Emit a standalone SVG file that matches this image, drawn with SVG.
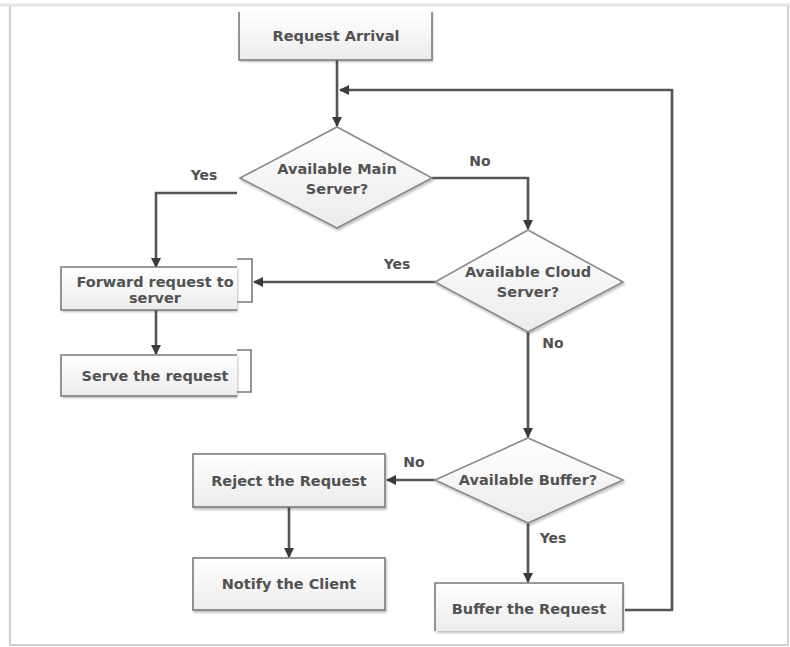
<svg xmlns="http://www.w3.org/2000/svg" width="790" height="647" viewBox="0 0 790 647">
<defs>
<linearGradient id="boxfill" x1="0" y1="0" x2="0" y2="1">
<stop offset="0" stop-color="#ffffff"/>
<stop offset="1" stop-color="#ececec"/>
</linearGradient>
<marker id="arr" markerWidth="10" markerHeight="10" refX="9" refY="5" orient="auto" markerUnits="userSpaceOnUse" viewBox="0 0 10 10">
<path d="M0,0 L10,5 L0,10 z" fill="#3a3a3a"/>
</marker>
<filter id="sh" x="-10%" y="-10%" width="130%" height="140%">
<feDropShadow dx="1" dy="2" stdDeviation="1.2" flood-color="#000" flood-opacity="0.25"/>
</filter>
</defs>
<style>
.box{fill:url(#boxfill);stroke:#7a7a7a;stroke-width:1.6}
.edge{fill:none;stroke:#7a7a7a;stroke-width:1.6}
.dia{fill:url(#boxfill);stroke:#8a8a8a;stroke-width:1.6}
.conn{fill:none;stroke:#555;stroke-width:2.6}
.t{font-family:"DejaVu Sans","Open Sans",sans-serif;font-size:14.5px;font-weight:bold;fill:#525252;text-anchor:middle}
.lbl{font-family:"DejaVu Sans","Open Sans",sans-serif;font-size:14px;font-weight:bold;fill:#525252;text-anchor:middle}
</style>
<rect x="0" y="0" width="790" height="647" fill="#ffffff"/>
<rect x="10" y="5" width="778" height="640" fill="#ffffff" stroke="#d0d0d0" stroke-width="2"/>
<line x1="0" y1="5" x2="790" y2="5" stroke="#e6e6e6" stroke-width="3"/>

<g id="connectors">
<line class="conn" x1="337" y1="60" x2="337" y2="126" marker-end="url(#arr)"/>
<polyline class="conn" points="625,610 672,610 672,90 340,90" marker-end="url(#arr)"/>
<polyline class="conn" points="237,193 156,193 156,267" marker-end="url(#arr)"/>
<polyline class="conn" points="432,178 528,178 528,229" marker-end="url(#arr)"/>
<line class="conn" x1="435" y1="282" x2="254" y2="282" marker-end="url(#arr)"/>
<line class="conn" x1="156" y1="310" x2="156" y2="354" marker-end="url(#arr)"/>
<line class="conn" x1="528" y1="332" x2="528" y2="437" marker-end="url(#arr)"/>
<line class="conn" x1="435" y1="480" x2="387" y2="480" marker-end="url(#arr)"/>
<line class="conn" x1="289" y1="507" x2="289" y2="557" marker-end="url(#arr)"/>
<line class="conn" x1="528" y1="523" x2="528" y2="582" marker-end="url(#arr)"/>
<text class="lbl" x="204" y="180">Yes</text>
<text class="lbl" x="480" y="166">No</text>
<text class="lbl" x="397" y="269">Yes</text>
<text class="lbl" x="553" y="348">No</text>
<text class="lbl" x="414" y="467">No</text>
<text class="lbl" x="553" y="543">Yes</text>
</g>

<g id="request-arrival">
<rect x="239" y="10" width="193" height="50" fill="url(#boxfill)" filter="url(#sh)"/>
<polyline class="edge" points="239,12 239,60 432,60 432,12"/>
<text class="t" x="336" y="41">Request Arrival</text>
</g>

<g id="main-server">
<polygon class="dia" points="337,127 432,178 337,228 240,178" filter="url(#sh)"/>
<text class="t" x="337" y="174">Available Main</text>
<text class="t" x="337" y="194">Server?</text>
</g>

<g id="forward-request">
<rect x="61" y="267" width="176" height="43" fill="url(#boxfill)" filter="url(#sh)"/>
<polyline class="edge" points="237,267 61,267 61,310 237,310"/>
<polyline class="edge" points="237,259 252,259 252,302 237,302"/>
<text class="t" x="155" y="287">Forward request to</text>
<text class="t" x="155" y="303">server</text>
</g>

<g id="serve-request">
<rect x="61" y="355" width="176" height="41" fill="url(#boxfill)" filter="url(#sh)"/>
<polyline class="edge" points="237,355 61,355 61,396 237,396"/>
<polyline class="edge" points="237,350 251,350 251,392 237,392"/>
<text class="t" x="155" y="381">Serve the request</text>
</g>

<g id="cloud-server">
<polygon class="dia" points="528,230 623,282 528,332 435,282" filter="url(#sh)"/>
<text class="t" x="528" y="277">Available Cloud</text>
<text class="t" x="528" y="297">Server?</text>
</g>

<g id="buffer-check">
<polygon class="dia" points="528,438 623,480 528,523 435,480" filter="url(#sh)"/>
<text class="t" x="528" y="485">Available Buffer?</text>
</g>

<g id="reject-request">
<rect class="box" x="193" y="454" width="192" height="53" filter="url(#sh)"/>
<text class="t" x="289" y="486">Reject the Request</text>
</g>

<g id="notify-client">
<rect class="box" x="193" y="558" width="192" height="52" filter="url(#sh)"/>
<text class="t" x="289" y="589">Notify the Client</text>
</g>

<g id="buffer-request">
<rect x="435" y="583" width="188" height="48" fill="url(#boxfill)" filter="url(#sh)"/>
<polyline class="edge" points="435,631 435,583 623,583 623,631"/>
<text class="t" x="529" y="614">Buffer the Request</text>
</g>
</svg>
